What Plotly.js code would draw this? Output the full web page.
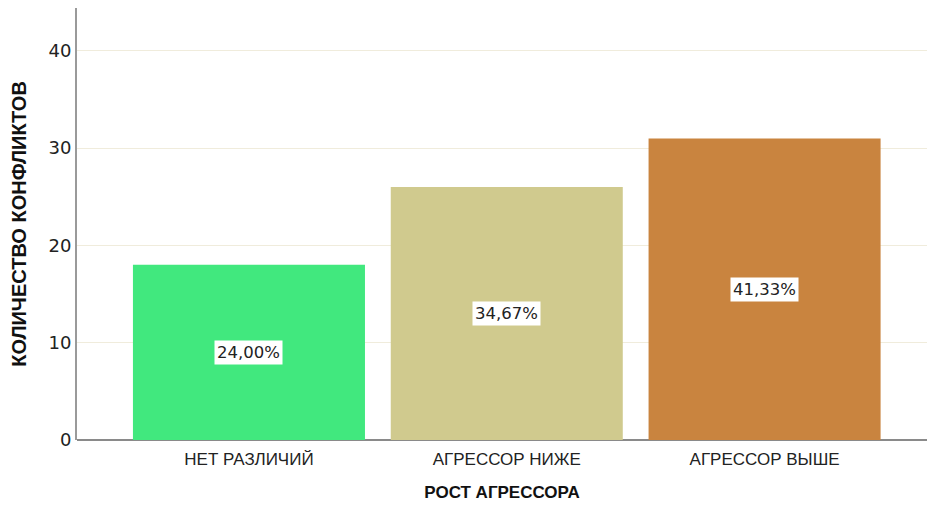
<!DOCTYPE html>
<html><head><meta charset="utf-8">
<script src="https://cdn.plot.ly/plotly-3.0.1.min.js"></script>
<style>body{margin:0;background:#fff}#c{width:927px;height:506px}</style>
</head><body><div id="c"></div>
<script>
const categories = ["НЕТ РАЗЛИЧИЙ", "АГРЕССОР НИЖЕ", "АГРЕССОР ВЫШЕ"];
const counts = [18, 26, 31];
const percentLabels = ["24,00%", "34,67%", "41,33%"];
const barColors = ["#41e87e", "#d0ca8e", "#c9843f"];

const trace = {
  type: "bar",
  x: categories,
  y: counts,
  width: 0.9,
  marker: {color: barColors, line: {width: 0}},
  hoverinfo: "skip"
};

const annotations = categories.map((c, i) => ({
  x: c, y: counts[i] / 2, xref: "x", yref: "y",
  text: percentLabels[i], showarrow: false,
  bgcolor: "#ffffff", borderpad: 2,
  font: {family: "DejaVu Sans", size: 16.5, color: "#222"}
}));

const layout = {
  width: 927, height: 506,
  margin: {l: 77, r: 0, t: 8, b: 66},
  paper_bgcolor: "#fff", plot_bgcolor: "#fff",
  showlegend: false,
  bargap: 0.1,
  xaxis: {
    range: [-0.667, 2.63],
    showline: false, showgrid: false, zeroline: false,
    ticks: "", ticklabelstandoff: 7,
    tickfont: {family: "Liberation Sans", size: 17, color: "#222"},
    title: {text: "<b>РОСТ АГРЕССОРА</b>", font: {family: "Liberation Sans", size: 17, color: "#111"}, standoff: 18}
  },
  yaxis: {
    range: [0, 44.4],
    tickvals: [0, 10, 20, 30, 40],
    showline: true, linecolor: "#9a9a9a", linewidth: 2,
    showgrid: true, gridcolor: "#f0ecdc", gridwidth: 1,
    zeroline: true, zerolinecolor: "#8a8a8a", zerolinewidth: 2,
    ticks: "", ticklen: 0,
    tickfont: {family: "DejaVu Sans", size: 18, color: "#222"},
    title: {text: "<b>КОЛИЧЕСТВО КОНФЛИКТОВ</b>", font: {family: "Liberation Sans", size: 20, color: "#111"}, standoff: 16}
  },
  annotations: annotations
};

Plotly.newPlot("c", [trace], layout, {displayModeBar: false, staticPlot: true});
</script>
</body></html>
